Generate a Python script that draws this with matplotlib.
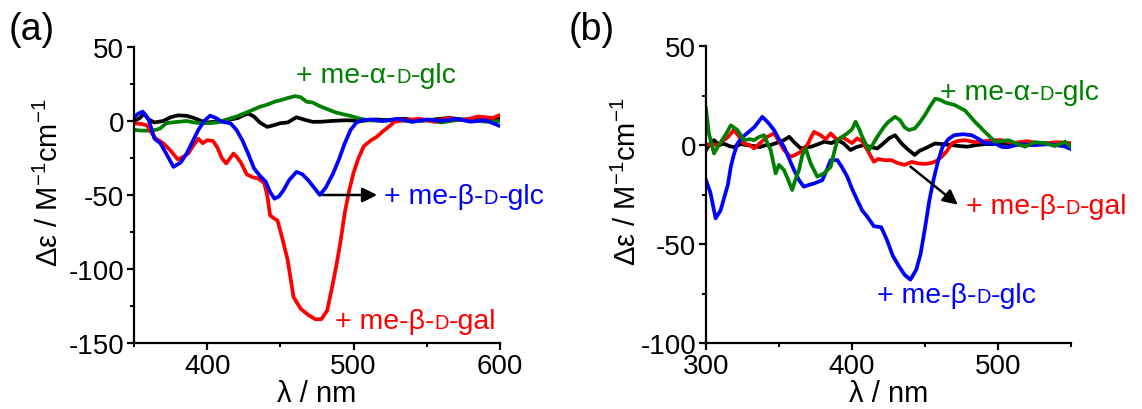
import matplotlib
matplotlib.use("Agg")
import matplotlib.pyplot as plt
from matplotlib.ticker import MultipleLocator
from matplotlib.offsetbox import TextArea, HPacker, AnnotationBbox

plt.rcParams["font.family"] = ["Liberation Sans", "DejaVu Sans"]
plt.rcParams["mathtext.fontset"] = "custom"
plt.rcParams["mathtext.rm"] = "Liberation Sans"
plt.rcParams["mathtext.default"] = "regular"
plt.rcParams["axes.unicode_minus"] = False

# ---- panel (a): 350-600 nm ----
a_blue_x = [350, 353, 356, 360, 364, 368, 372, 377, 382, 386, 390, 394, 398, 402, 406, 410, 416, 420,
            424, 428, 432, 436, 440, 443, 446, 449, 452, 456, 461, 465, 469, 473, 477, 481, 486, 490,
            494, 498, 502, 506, 512, 520, 530, 540, 550, 560, 570, 580, 590, 600]
a_blue_y = [2.5, 5, 6.3, 1, -12, -15, -22, -31, -28, -22, -14, -6, 0, 3.6, 2, -0.5, -1.6, -6,
            -13, -22, -32, -37, -41, -48, -52.5, -51, -47, -40, -34.4, -36, -40, -45, -50, -45, -35.5, -26,
            -15, -6, -1, 0.5, 1, 0, 1.5, -0.5, 1, 0, 1.5, -0.5, 0.5, -3.4]

a_red_x = [350, 355, 359, 362, 365, 370, 375, 380, 384, 387, 391, 394, 397, 400, 404, 407, 410, 413,
           415, 418, 420, 423, 427, 431, 435, 439, 441, 443, 446, 448, 451, 455, 459, 464, 469, 474,
           478, 482, 485, 488, 491, 494, 497, 500, 503, 507, 512, 516, 520, 524, 528, 535, 545, 555,
           565, 575, 585, 595, 600]
a_red_y = [-1.6, -2, -3, -8, -12, -15, -20, -26, -24, -22, -16, -12, -15, -13, -13.5, -18, -25, -28.7,
           -26, -22, -24, -28, -36, -38, -38.9, -42, -50, -63.8, -66, -67.2, -78, -94, -119, -127, -131, -134,
           -133.9, -128, -114, -99, -82, -62, -47, -35, -26, -17, -13, -10.6, -7, -3.9, -0.5, 0.5, 1.5, -0.5,
           2, 0.5, 3, 2, 4]

a_green_x = [350, 355, 360, 365, 368, 372, 376, 381, 386, 391, 396, 401, 407, 412, 416, 420, 425, 430,
             436, 441, 446, 450, 455, 460, 464, 468, 472, 477, 482, 488, 493, 498, 504, 510, 520, 530,
             540, 550, 560, 570, 580, 590, 600]
a_green_y = [-6, -6.5, -6.5, -6, -5, -1.5, -1, -0.5, 0, -1, -1.5, -1.5, -1, 0.5, 1.8, 3, 5, 7,
             9.6, 11, 13, 14, 15.5, 16.8, 16, 13, 12.5, 10, 8, 5.7, 4.5, 3.4, 1.6, 0.5, 0, 1,
             -0.5, 0.5, -1, 0.5, 1, -0.5, 0]

a_black_x = [350, 354, 357, 360, 364, 370, 375, 380, 386, 391, 396, 400, 405, 410, 416, 421, 425, 428,
             432, 436, 441, 445, 450, 455, 461, 466, 472, 478, 485, 495, 505, 515, 525, 535, 545, 555,
             565, 575, 585, 595, 600]
a_black_y = [0, 2, 5, 1, -1, 0, 2.5, 3.8, 3.5, 2, 0, -1, -0.5, 0, 1, 2, 4, 5,
             3, -1, -4, -3, -1.5, -1, 2.5, 1, -0.6, -0.5, 0, 0.5, 0, 1, 0.5, 1.5, 0, 1,
             2, 1, 1.5, 0.5, 2]

# ---- panel (b): 300-550 nm ----
b_blue_x = [300, 303, 306.6, 310, 312.3, 315, 317, 319, 321.5, 325, 328, 333, 338.6, 343, 346.6, 350,
            353.4, 357, 360.3, 364, 367, 371, 374, 379.7, 383, 385.4, 390, 393, 396.8, 400, 403.6, 407,
            410.5, 415, 420, 424, 428, 432, 436, 440, 444, 447, 450, 453, 456, 459, 462, 466, 470, 476,
            482, 487, 491, 498, 503, 507, 515, 525, 535, 545, 550]
b_blue_y = [-17.7, -24, -37, -33, -27, -20, -11, -5, 0.8, 4, 5.9, 9, 14.3, 11, 7.6, 3,
            -0.8, -7, -12.6, -18, -21, -20, -19.4, -17.7, -12, -7.6, -7.6, -11, -16, -22, -27.8, -33,
            -36.2, -41, -41.5, -48, -56, -61, -65.5, -68, -63, -55, -42, -28, -17, -8, -1, 3, 5, 5.5,
            5, 3, 1, 0.8, -1, -1, 0.5, 0, 0.5, -0.5, -2]

b_red_x = [300, 304, 308, 312, 315, 319, 322, 326, 330, 333, 337, 342, 346.6, 350, 353.4, 358, 361,
           364.9, 369.4, 372, 374, 378.5, 382, 385.4, 390, 393, 396.8, 400, 403.6, 407, 410.5, 415, 418,
           422, 427, 431, 436, 441, 445.4, 450, 454.6, 458, 461.4, 465, 468.3, 472, 477.4, 484, 491, 497,
           502.5, 510, 520, 530, 540, 550]
b_red_y = [0, 0.5, 0, 2.5, 4, 7.6, 5, 0.8, 0, -1.7, 1, 4.2, 5.9, 2, -2.5, -5.9, -5,
           -3.4, 0, 4, 6.7, 5, 3, 5.9, 2.5, 4, 2.5, 1, 3.4, 2, -2.5, -8.4, -7,
           -7.6, -7.6, -9, -10, -8.5, -9.3, -9.5, -9, -8, -5.9, -3, 0.8, 2, 2.5, 1.5, 2, 2.5,
           2.5, 1, 2, 0.5, 1.5, 1]

b_green_x = [300, 302, 305.5, 308, 311, 314, 317, 321.5, 326, 330, 333, 336, 339.7, 344.3, 347.7, 350,
             353.4, 356, 359, 361, 363.7, 366, 368.3, 371.7, 376.3, 380.8, 385.4, 388, 390, 393, 396.8,
             400, 402.5, 405, 407, 411.6, 414, 417.3, 422, 425, 429.5, 432.9, 436, 439, 443, 446, 450,
             453, 457, 460, 464, 470.5, 477.4, 484.2, 491, 498, 503, 507, 512, 518.5, 525, 532, 539,
             546, 550]
b_green_y = [18.5, 5.9, -4.2, -1, 2.5, 6, 10, 7.6, 2.5, 3, 2.5, 4, 5, -2.5, -14.3, -10,
             -12.6, -17, -22.7, -18, -12.6, -5, -1.7, -9.3, -16, -14.3, -11, -3, 2.5, 4, 5.9,
             8, 11.8, 8, 4.2, -2.5, 0, 4.2, 9.3, 11.8, 14.3, 12.6, 9, 7.6, 8.4, 11, 15.2,
             19, 23.4, 23, 21.5, 20.2, 17.5, 11.8, 6.7, 1.7, 2, 2.5, 1, -0.8, 1.5, 1, -0.5,
             1.7, -1]

b_black_x = [300, 303, 305.5, 309, 312, 316, 319, 324, 328, 333, 337, 341, 344, 348, 353.4, 357, 361,
             365, 369, 372, 377, 381, 386, 390, 394, 399, 403, 408, 413, 417.3, 421, 425.3, 429.5, 434,
             438, 443, 446, 450, 456.8, 462, 468.3, 474, 479, 485, 491, 496, 502, 510, 518, 525, 533,
             541, 546, 550]
b_black_y = [-2.5, 1, 2.5, 0, 0.8, -0.5, -1, 0.5, 0, -0.5, -1, 0, 0, 1, 2.5, 4.2, 1,
             -1.7, -1, -0.8, 0.5, 1.7, 1, 2.5, 1, -2.5, -1, 0, -1, -1.7, 0.5, 3.4, 5, 0.8,
             -2, -5, -3, -1.7, 0.8, 0.5, 0, -0.5, -0.8, 0, 0.5, 0.5, 1, 0.5, 0, 0.5, 1,
             0, -0.5, -1]

GREEN = "#008000"
LW = 2.7


def style_axes(ax, xlim, ylim, xmajor, ymajor, ylab_x):
    ax.set_xlim(*xlim)
    ax.set_ylim(*ylim)
    ax.spines["top"].set_visible(False)
    ax.spines["right"].set_visible(False)
    for s in ("left", "bottom"):
        ax.spines[s].set_linewidth(1.6)
    ax.xaxis.set_major_locator(MultipleLocator(xmajor))
    ax.xaxis.set_minor_locator(MultipleLocator(xmajor / 2))
    ax.yaxis.set_major_locator(MultipleLocator(ymajor))
    ax.yaxis.set_minor_locator(MultipleLocator(ymajor / 2))
    ax.tick_params(which="major", direction="out", length=5, width=1.6, labelsize=20, pad=2)
    ax.tick_params(which="minor", direction="out", length=3, width=1.4)
    ax.set_xlabel("λ / nm", fontsize=21, labelpad=0)
    ax.set_ylabel(r"Δε / M$^{-1}$cm$^{-1}$", fontsize=21)
    ax.yaxis.set_label_coords(ylab_x, 0.545)


def sugar_label(ax, x, y, pre, post, color):
    # small-caps "D" between two normal-size pieces
    parts = [TextArea(pre, textprops=dict(color=color, fontsize=20.5)),
             TextArea("D", textprops=dict(color=color, fontsize=14.5)),
             TextArea(post, textprops=dict(color=color, fontsize=20.5))]
    box = HPacker(children=parts, align="baseline", pad=0, sep=0)
    ab = AnnotationBbox(box, (x, y), xycoords="data", box_alignment=(0, 0.5),
                        frameon=False, pad=0, annotation_clip=False)
    ax.add_artist(ab)


fig = plt.figure(figsize=(11.42, 4.10), dpi=100)

ax1 = fig.add_axes([0.1173, 0.161, 0.3205, 0.722])
ax1.plot(a_black_x, a_black_y, color="black", lw=LW)
ax1.plot(a_green_x, a_green_y, color=GREEN, lw=LW)
ax1.plot(a_red_x, a_red_y, color="red", lw=LW)
ax1.plot(a_blue_x, a_blue_y, color="blue", lw=LW)
style_axes(ax1, (350, 600), (-150, 50), 100, 50, -0.19)
ax1.set_xticks([400, 500, 600])
ax1.annotate("", xy=(518, -50), xytext=(477, -50),
             arrowprops=dict(arrowstyle="-|>", color="black", lw=1.8, mutation_scale=22))
sugar_label(ax1, 461, 31, "+ me-α-", "-glc", GREEN)
sugar_label(ax1, 521, -51, "+ me-β-", "-glc", "blue")
sugar_label(ax1, 487, -135, "+ me-β-", "-gal", "red")

ax2 = fig.add_axes([0.6182, 0.161, 0.3196, 0.724])
ax2.plot(b_black_x, b_black_y, color="black", lw=LW)
ax2.plot(b_red_x, b_red_y, color="red", lw=LW)
ax2.plot(b_blue_x, b_blue_y, color="blue", lw=LW)
ax2.plot(b_green_x, b_green_y, color=GREEN, lw=LW)
style_axes(ax2, (300, 550), (-100, 50), 100, 50, -0.175)
ax2.set_xticks([300, 400, 500])
ax2.annotate("", xy=(474, -31), xytext=(438.6, -10),
             arrowprops=dict(arrowstyle="-|>", color="black", lw=1.8, mutation_scale=22))
sugar_label(ax2, 460, 27, "+ me-α-", "-glc", GREEN)
sugar_label(ax2, 478, -31, "+ me-β-", "-gal", "red")
sugar_label(ax2, 417, -76, "+ me-β-", "-glc", "blue")

fig.text(0.028, 0.927, "(a)", fontsize=27, ha="center", va="center")
fig.text(0.518, 0.927, "(b)", fontsize=27, ha="center", va="center")

fig.savefig("out.png", dpi=100)
